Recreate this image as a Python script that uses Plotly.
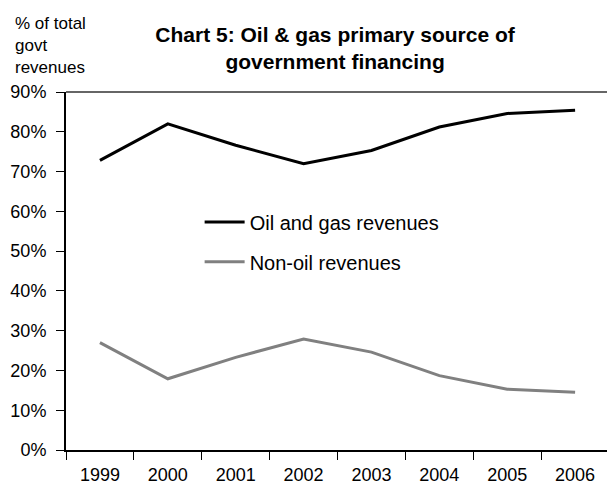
import plotly.graph_objects as go

years = ["1999", "2000", "2001", "2002", "2003", "2004", "2005", "2006"]
oil_gas = [0.728, 0.820, 0.766, 0.720, 0.753, 0.812, 0.846, 0.854]
non_oil = [0.270, 0.179, 0.233, 0.279, 0.246, 0.187, 0.153, 0.145]
y_ticks = [0, 0.1, 0.2, 0.3, 0.4, 0.5, 0.6, 0.7, 0.8, 0.9]

FONT = "Liberation Sans, Arial, sans-serif"

fig = go.Figure()
fig.add_trace(go.Scatter(x=years, y=oil_gas, mode="lines", name="Oil and gas revenues",
                         line=dict(color="#000000", width=3), legend="legend"))
fig.add_trace(go.Scatter(x=years, y=non_oil, mode="lines", name="Non-oil revenues",
                         line=dict(color="#808080", width=3), legend="legend2"))

fig.update_layout(
    width=607, height=485,
    margin=dict(l=66, r=0, t=92, b=32),
    paper_bgcolor="white", plot_bgcolor="white",
    font=dict(family=FONT, size=18, color="#000000"),
    showlegend=True,
    title=dict(text="<b>Chart 5: Oil & gas primary source of<br>government financing</b>",
               x=0.552, xanchor="center", y=0.914, yanchor="middle",
               font=dict(family=FONT, size=21, color="#000000")),
    legend=dict(x=0.247, y=0.637, xanchor="left", yanchor="middle",
                bgcolor="rgba(0,0,0,0)", font=dict(size=20), itemwidth=40),
    legend2=dict(x=0.247, y=0.526, xanchor="left", yanchor="middle",
                 bgcolor="rgba(0,0,0,0)", font=dict(size=20), itemwidth=40),
    xaxis=dict(type="category", range=[-0.5, 7.47], tickson="boundaries",
               ticks="outside", ticklen=8, tickwidth=1, tickcolor="#000000",
               ticklabelstandoff=7,
               showline=True, linecolor="#000000", linewidth=2,
               showgrid=False, zeroline=False, tickfont=dict(size=18)),
    yaxis=dict(range=[0, 0.9], tickvals=y_ticks, tickformat=".0%",
               ticks="outside", ticklen=8, tickwidth=1, tickcolor="#000000",
               ticklabelstandoff=6,
               showline=True, linecolor="#000000", linewidth=2,
               showgrid=False, zeroline=False, tickfont=dict(size=18)),
    shapes=[dict(type="line", xref="paper", yref="paper", x0=0, x1=1, y0=1, y1=1,
                 line=dict(color="#333333", width=1.5))],
    annotations=[dict(text="% of total<br>govt<br>revenues", xref="paper", yref="paper",
                      x=-0.098, y=1.13, xanchor="left", yanchor="middle", align="left",
                      showarrow=False, font=dict(family=FONT, size=17, color="#000000"))],
)

fig.write_html("out.html", config={"displayModeBar": False},
               post_script="document.body.style.margin='0px';")
